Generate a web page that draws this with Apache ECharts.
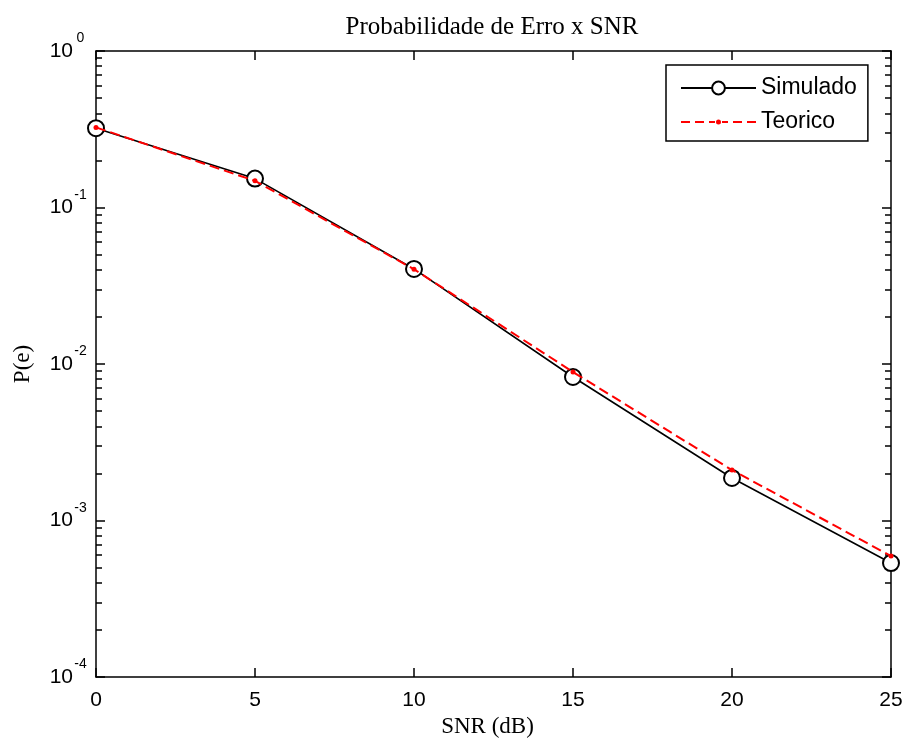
<!DOCTYPE html>
<html>
<head>
<meta charset="utf-8">
<script src="https://cdn.jsdelivr.net/npm/echarts@6/dist/echarts.min.js"></script>
<style>html,body{margin:0;padding:0;background:#fff;}#c{width:906px;height:745px;}</style>
</head>
<body>
<div id="c"></div>
<script>
var snr = [0, 5, 10, 15, 20, 25];
var simulado = [0.321, 0.153, 0.0405, 0.00826, 0.00187, 0.000535];
var teorico = [0.325, 0.148, 0.0403, 0.00889, 0.0021, 0.000593];
var xTicks = [0, 5, 10, 15, 20, 25];
var yDecades = [1e-4, 1e-3, 1e-2, 1e-1, 1];
var yMinor = [];
for (var d = -4; d < 0; d++) { for (var m = 1; m <= 9; m++) { yMinor.push(+(m * Math.pow(10, d)).toPrecision(3)); } }
yMinor.push(1);

var SANS = '"Liberation Sans", Arial, sans-serif';
var SERIF = '"Liberation Serif", "Times New Roman", serif';

// legend icon for the dashed red line with a small dot (75 x 16 box)
var dashIcon = 'path://M0 0L0.01 0Z M0 16L0.01 16Z ' +
  'M0 7H9V9H0Z M14 7H23V9H14Z M28 7H34V9H28Z ' +
  'M35 8A2.5 2.5 0 1 0 40 8A2.5 2.5 0 1 0 35 8Z ' +
  'M41 7H47V9H41Z M52 7H61V9H52Z M66 7H75V9H66Z';

var chart = echarts.init(document.getElementById('c'), null, {renderer: 'canvas'});
function pairs(xs, ys) { return xs.map(function (x, i) { return [x, ys[i]]; }); }

var axLine = {show: true, lineStyle: {color: '#000', width: 1.5}};
var option = {
  animation: false,
  backgroundColor: '#fff',
  title: {
    text: 'Probabilidade de Erro x SNR',
    left: 487, top: 10, textAlign: 'center',
    textStyle: {fontFamily: SERIF, fontWeight: 'normal', fontSize: 25, color: '#000'}
  },
  grid: {left: 96, right: 15, top: 51, bottom: 68, containLabel: false},
  legend: {
    left: 666, top: 65, orient: 'vertical',
    padding: [10, 11, 6, 14], itemGap: 8,
    itemWidth: 75, itemHeight: 16,
    borderColor: '#000', borderWidth: 1.5, backgroundColor: '#fff',
    textStyle: {fontFamily: SANS, fontSize: 23, color: '#000', lineHeight: 26},
    data: [{name: 'Simulado'}, {name: 'Teorico', icon: dashIcon, itemStyle: {color: '#ff0000', borderWidth: 0}}]
  },
  xAxis: [
    {type: 'value', min: 0, max: 25, interval: 5, position: 'bottom',
     axisLine: axLine, splitLine: {show: false},
     axisTick: {show: true, inside: true, length: 9, lineStyle: {color: '#000', width: 1.5}},
     axisLabel: {fontFamily: SANS, fontSize: 21, color: '#000', margin: 13},
     name: 'SNR (dB)', nameLocation: 'middle', nameGap: 33,
     nameTextStyle: {fontFamily: SERIF, fontSize: 23, color: '#000', padding: [0, 12, 0, 0]}},
    {type: 'value', min: 0, max: 25, interval: 5, position: 'top',
     axisLine: axLine, splitLine: {show: false},
     axisTick: {show: true, inside: true, length: 9, lineStyle: {color: '#000', width: 1.5}},
     axisLabel: {show: false}}
  ],
  yAxis: [
    {type: 'log', logBase: 10, min: 1e-4, max: 1, position: 'left',
     axisLine: axLine, splitLine: {show: false},
     axisTick: {show: true, inside: true, length: 9, lineStyle: {color: '#000', width: 1.5}, customValues: yDecades},
     axisLabel: {
       customValues: yDecades, margin: 8,
       formatter: function (v) { return '{b|10}{s|' + Math.round(Math.log10(v)) + '}'; },
       rich: {
         b: {fontFamily: SANS, fontSize: 21, color: '#000', lineHeight: 21, verticalAlign: 'bottom'},
         s: {fontFamily: SANS, fontSize: 14, color: '#000', lineHeight: 14, width: 15, align: 'left', padding: [0, 0, 16, 0], verticalAlign: 'bottom'}
       }
     },
     name: 'P(e)', nameLocation: 'middle', nameGap: 62,
     nameTextStyle: {fontFamily: SERIF, fontSize: 23, color: '#000'}},
    {type: 'log', logBase: 10, min: 1e-4, max: 1, position: 'left',
     axisLine: {show: false}, splitLine: {show: false},
     axisTick: {show: true, inside: true, length: 6, lineStyle: {color: '#000', width: 1.5}, customValues: yMinor},
     axisLabel: {show: false}},
    {type: 'log', logBase: 10, min: 1e-4, max: 1, position: 'right',
     axisLine: axLine, splitLine: {show: false},
     axisTick: {show: true, inside: true, length: 9, lineStyle: {color: '#000', width: 1.5}, customValues: yDecades},
     axisLabel: {show: false}},
    {type: 'log', logBase: 10, min: 1e-4, max: 1, position: 'right',
     axisLine: {show: false}, splitLine: {show: false},
     axisTick: {show: true, inside: true, length: 6, lineStyle: {color: '#000', width: 1.5}, customValues: yMinor},
     axisLabel: {show: false}}
  ],
  series: [
    {name: 'Simulado', type: 'line', xAxisIndex: 0, yAxisIndex: 0,
     data: pairs(snr, simulado),
     symbol: 'emptyCircle', symbolSize: 16,
     lineStyle: {color: '#000', width: 1.6},
     itemStyle: {color: '#000', borderColor: '#000', borderWidth: 1.6},
     z: 2},
    {name: 'Teorico', type: 'line', xAxisIndex: 0, yAxisIndex: 0,
     data: pairs(snr, teorico),
     symbol: 'circle', symbolSize: 5,
     lineStyle: {color: '#ff0000', width: 2, type: [10, 5]},
     itemStyle: {color: '#ff0000'},
     z: 3}
  ]
};
chart.setOption(option);
</script>
</body>
</html>
